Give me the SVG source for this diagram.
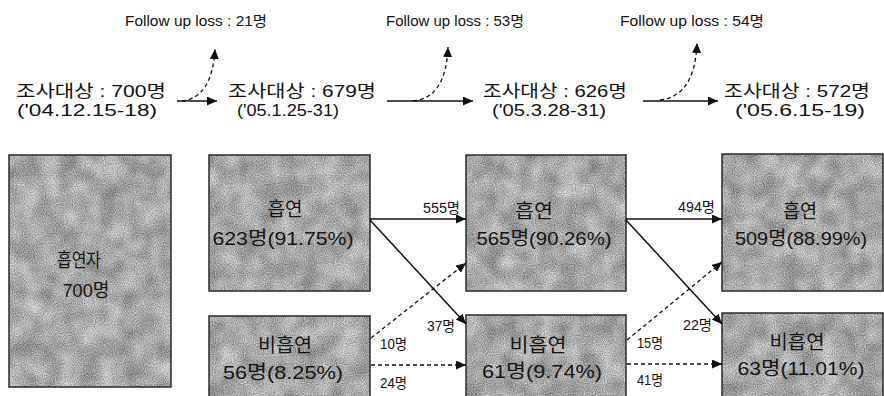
<svg xmlns="http://www.w3.org/2000/svg" width="884" height="396" viewBox="0 0 884 396">
<style>
  .hdr{font-family:"Liberation Sans","Noto Sans CJK KR",sans-serif;font-size:17px;fill:#111;}
  .fu{font-family:"Liberation Sans","Noto Sans CJK KR",sans-serif;font-size:14px;fill:#111;}
  .bx{font-family:"Liberation Sans","Noto Sans CJK KR",sans-serif;font-size:19px;fill:#151515;}
  .lbl{font-family:"Liberation Sans","Noto Sans CJK KR",sans-serif;font-size:14px;fill:#111;}
  .fill{filter:url(#grain);fill:#999;}
  .border{fill:none;stroke:#2a2a2a;stroke-width:1.5;}
  .solid{fill:none;stroke:#111;stroke-width:1.5;marker-end:url(#ah);}
  .dash{fill:none;stroke:#111;stroke-width:1.3;stroke-dasharray:4 3;marker-end:url(#ah);}
</style>
<defs>
  <marker id="ah" markerUnits="userSpaceOnUse" markerWidth="11" markerHeight="9" refX="10" refY="4.5" orient="auto">
    <path d="M0,0 L10,4.5 L0,9 Z" fill="#111"/>
  </marker>
  <filter id="grain" x="0" y="0" width="1" height="1" color-interpolation-filters="sRGB">
    <feTurbulence type="fractalNoise" baseFrequency="0.05" numOctaves="2" seed="4" result="lowraw"/>
    <feColorMatrix in="lowraw" type="matrix" values="1 0 0 0 0  1 0 0 0 0  1 0 0 0 0  0 0 0 0 1" result="low"/>
    <feTurbulence type="fractalNoise" baseFrequency="0.9" numOctaves="1" seed="9" result="highraw"/>
    <feColorMatrix in="highraw" type="matrix" values="1 0 0 0 0  1 0 0 0 0  1 0 0 0 0  0 0 0 0 1" result="high"/>
    <feComposite in="low" in2="high" operator="arithmetic" k1="0" k2="0.5" k3="0.8" k4="0" result="mix"/>
    <feColorMatrix in="mix" type="matrix" values="0.75 0 0 0 0.17  0.75 0 0 0 0.17  0.75 0 0 0 0.17  0 0 0 0 1" result="gray"/>
    <feComposite in="gray" in2="SourceGraphic" operator="in"/>
  </filter>
</defs>
<rect x="0" y="0" width="884" height="396" fill="#fff"/>

<!-- headers -->
<g id="header1">
  <text class="hdr" x="91" y="97" text-anchor="middle" textLength="150" lengthAdjust="spacingAndGlyphs">조사대상 : 700명</text>
  <text class="hdr" x="87" y="116" text-anchor="middle" textLength="140" lengthAdjust="spacingAndGlyphs">('04.12.15-18)</text>
</g>
<g id="header2">
  <text class="hdr" x="302" y="97" text-anchor="middle" textLength="148" lengthAdjust="spacingAndGlyphs">조사대상 : 679명</text>
  <text class="hdr" x="288" y="116" text-anchor="middle" textLength="102" lengthAdjust="spacingAndGlyphs">('05.1.25-31)</text>
</g>
<g id="header3">
  <text class="hdr" x="555" y="97" text-anchor="middle" textLength="144" lengthAdjust="spacingAndGlyphs">조사대상 : 626명</text>
  <text class="hdr" x="549" y="116" text-anchor="middle" textLength="114" lengthAdjust="spacingAndGlyphs">('05.3.28-31)</text>
</g>
<g id="header4">
  <text class="hdr" x="797" y="97" text-anchor="middle" textLength="146" lengthAdjust="spacingAndGlyphs">조사대상 : 572명</text>
  <text class="hdr" x="800" y="116" text-anchor="middle" textLength="130" lengthAdjust="spacingAndGlyphs">('05.6.15-19)</text>
</g>
<g id="loss1"><text class="fu" x="196" y="26" text-anchor="middle" textLength="142" lengthAdjust="spacingAndGlyphs">Follow up loss : 21명</text></g>
<g id="loss2"><text class="fu" x="455" y="26" text-anchor="middle" textLength="138" lengthAdjust="spacingAndGlyphs">Follow up loss : 53명</text></g>
<g id="loss3"><text class="fu" x="692" y="26" text-anchor="middle" textLength="144" lengthAdjust="spacingAndGlyphs">Follow up loss : 54명</text></g>

<!-- boxes -->
<g id="n0">
  <rect class="fill" x="9" y="155" width="162" height="232"/>
  <rect class="border" x="9" y="155" width="162" height="232"/>
  <text class="bx" x="79" y="267" text-anchor="middle" textLength="44" lengthAdjust="spacingAndGlyphs">흡연자</text>
  <text class="bx" x="86" y="297" text-anchor="middle" textLength="47" lengthAdjust="spacingAndGlyphs">700명</text>
</g>
<g id="n1">
  <rect class="fill" x="209" y="155" width="161" height="136"/>
  <rect class="border" x="209" y="155" width="161" height="136"/>
  <text class="bx" x="285" y="216" text-anchor="middle" textLength="35" lengthAdjust="spacingAndGlyphs">흡연</text>
  <text class="bx" x="283" y="245" text-anchor="middle" textLength="141" lengthAdjust="spacingAndGlyphs">623명(91.75%)</text>
</g>
<g id="n2">
  <rect class="fill" x="209" y="316" width="161" height="82"/>
  <rect class="border" x="209" y="316" width="161" height="82"/>
  <text class="bx" x="285" y="352" text-anchor="middle" textLength="54" lengthAdjust="spacingAndGlyphs">비흡연</text>
  <text class="bx" x="283" y="379" text-anchor="middle" textLength="120" lengthAdjust="spacingAndGlyphs">56명(8.25%)</text>
</g>
<g id="n3">
  <rect class="fill" x="466" y="155" width="160" height="136"/>
  <rect class="border" x="466" y="155" width="160" height="136"/>
  <text class="bx" x="534" y="218" text-anchor="middle" textLength="38" lengthAdjust="spacingAndGlyphs">흡연</text>
  <text class="bx" x="544" y="245" text-anchor="middle" textLength="135" lengthAdjust="spacingAndGlyphs">565명(90.26%)</text>
</g>
<g id="n4">
  <rect class="fill" x="466" y="315" width="160" height="83"/>
  <rect class="border" x="466" y="315" width="160" height="83"/>
  <text class="bx" x="538" y="352" text-anchor="middle" textLength="57" lengthAdjust="spacingAndGlyphs">비흡연</text>
  <text class="bx" x="542" y="378" text-anchor="middle" textLength="120" lengthAdjust="spacingAndGlyphs">61명(9.74%)</text>
</g>
<g id="n5">
  <rect class="fill" x="722" y="154" width="161" height="137"/>
  <rect class="border" x="722" y="154" width="161" height="137"/>
  <text class="bx" x="800" y="218" text-anchor="middle" textLength="34" lengthAdjust="spacingAndGlyphs">흡연</text>
  <text class="bx" x="801" y="245" text-anchor="middle" textLength="132" lengthAdjust="spacingAndGlyphs">509명(88.99%)</text>
</g>
<g id="n6">
  <rect class="fill" x="722" y="313" width="161" height="85"/>
  <rect class="border" x="722" y="313" width="161" height="85"/>
  <text class="bx" x="797" y="349" text-anchor="middle" textLength="55" lengthAdjust="spacingAndGlyphs">비흡연</text>
  <text class="bx" x="801" y="375" text-anchor="middle" textLength="127" lengthAdjust="spacingAndGlyphs">63명(11.01%)</text>
</g>

<!-- connectors -->
<g id="connectors">
  <path class="solid" d="M177,101 H217"/>
  <path class="dash" d="M182,101 Q212,98 215,49"/>
  <path class="solid" d="M387,101 H473"/>
  <path class="dash" d="M413,101 Q446,98 448,47"/>
  <path class="solid" d="M643,101 H718"/>
  <path class="dash" d="M660,100 Q695,96 697,43"/>

  <path class="solid" d="M370,219 H466"/>
  <path class="solid" d="M370,220 L466,324"/>
  <path class="dash" d="M371,338 L466,263"/>
  <path class="dash" d="M371,365 H466"/>
  <path class="solid" d="M626,219 H722"/>
  <path class="solid" d="M626,220 L722,324"/>
  <path class="dash" d="M627,340 L722,262"/>
  <path class="dash" d="M627,364 H722"/>

  <text class="lbl" x="423" y="213" textLength="37" lengthAdjust="spacingAndGlyphs">555명</text>
  <text class="lbl" x="427" y="331" textLength="28" lengthAdjust="spacingAndGlyphs">37명</text>
  <text class="lbl" x="380" y="349" textLength="27" lengthAdjust="spacingAndGlyphs">10명</text>
  <text class="lbl" x="380" y="388" textLength="27" lengthAdjust="spacingAndGlyphs">24명</text>
  <text class="lbl" x="678" y="212" textLength="37" lengthAdjust="spacingAndGlyphs">494명</text>
  <text class="lbl" x="683" y="330" textLength="29" lengthAdjust="spacingAndGlyphs">22명</text>
  <text class="lbl" x="637" y="348" textLength="26" lengthAdjust="spacingAndGlyphs">15명</text>
  <text class="lbl" x="637" y="385" textLength="26" lengthAdjust="spacingAndGlyphs">41명</text>
</g>
</svg>
